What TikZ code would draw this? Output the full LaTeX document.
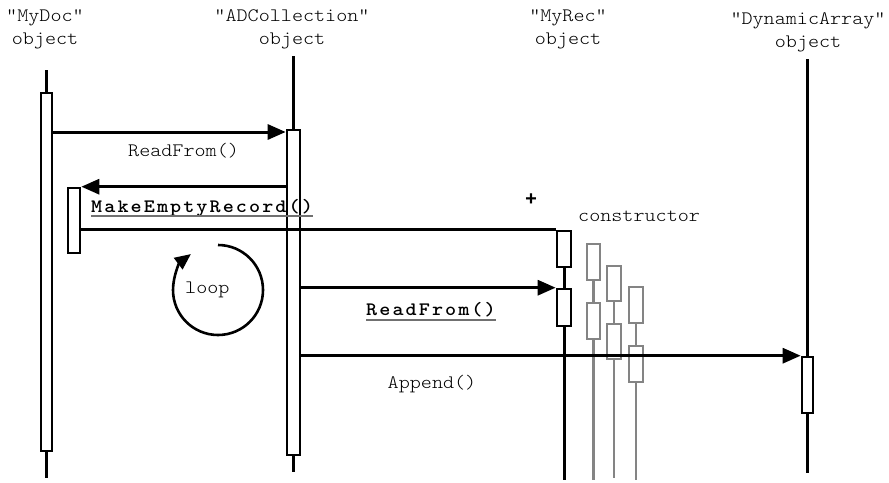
\documentclass[tikz,border=0pt]{standalone}
\usepackage{fontspec}
\usetikzlibrary{arrows.meta,calc}
\newfontfamily\monofont{lmmonolt10-regular.otf}[BoldFont=lmmonolt10-bold.otf, FakeStretch=1.11]
\newfontfamily\monosp{lmmonolt10-regular.otf}[BoldFont=lmmonolt10-bold.otf, FakeStretch=1.11, LetterSpace=11]
\newfontfamily\plusfont{Liberation Mono}
\definecolor{ghost}{HTML}{848484}
\definecolor{ulgray}{HTML}{707070}
\begin{document}
\begin{tikzpicture}[x=1pt,y=-1pt,
  txt/.style={font=\monofont\fontsize{19}{23}\selectfont, inner sep=0pt},
  btxt/.style={font=\monosp\bfseries\fontsize{19}{23}\selectfont, inner sep=0pt},
  hdr/.style={txt, align=center},
  life/.style={line width=3pt},
  glife/.style={line width=2.8pt, draw=ghost},
  bar/.style={draw, line width=2.6pt, fill=white, inner sep=0pt, minimum width=#1},
  gbar/.style={draw=ghost, line width=2.6pt, fill=white, inner sep=0pt, minimum width=#1},
  msg/.style={line width=3pt, -{Triangle[length=18pt,width=15pt]}},
  plain/.style={line width=3pt},
  uline/.style={draw=ulgray, line width=1.8pt}]
\useasboundingbox (0,0) rectangle (889,482);

% headers
\node[hdr] (hdoc) at (45,29) {"MyDoc"\\object};
\node[hdr] (hcol) at (292,29) {"ADCollection"\\object};
\node[hdr] (hrec) at (568,29) {"MyRec"\\object};
\node[hdr] (hdyn) at (808,32) {"DynamicArray"\\object};

% lifeline end points
\coordinate (doctop) at (46.5,70);
\coordinate (docbot) at (46.5,478);
\coordinate (coltop) at (293.5,56);
\coordinate (colbot) at (293.5,472);
\coordinate (recbot) at (564,480);
\coordinate (dyntop) at (807.5,59);
\coordinate (dynbot) at (807.5,473);
\coordinate (Abot) at (593.5,480);
\coordinate (Bbot) at (614,478);
\coordinate (Cbot) at (636,480);

% activation bars
\node[bar=11pt, minimum height=358pt] (docbar) at (46.5,272) {};
\node[bar=13pt, minimum height=325pt] (colbar) at (293.5,292.5) {};
\node[bar=12pt, minimum height=65pt] (ebar) at (74,220.5) {};
\node[bar=14pt, minimum height=36pt] (rec1) at (564,249) {};
\node[bar=14pt, minimum height=37pt] (rec2) at (564,307.5) {};
\node[bar=11pt, minimum height=56pt] (dynbar) at (807.5,385) {};

% ghost bars
\node[gbar=13pt, minimum height=36pt] (A1) at (593.5,262) {};
\node[gbar=13pt, minimum height=36pt] (A2) at (593.5,321) {};
\node[gbar=14pt, minimum height=35pt] (B1) at (614,283.5) {};
\node[gbar=14pt, minimum height=35pt] (B2) at (614,341.5) {};
\node[gbar=14pt, minimum height=36pt] (C1) at (636,305) {};
\node[gbar=14pt, minimum height=36pt] (C2) at (636,364) {};

% lifelines
\draw[life] (doctop) -- (docbar.north);
\draw[life] (docbar.south) -- (docbot);
\draw[life] (coltop) -- (colbar.north);
\draw[life] (colbar.south) -- (colbot);
\draw[life] (rec1.south) -- (rec2.north);
\draw[life] (rec2.south) -- (recbot);
\draw[life] (dyntop) -- (dynbar.north);
\draw[life] (dynbar.south) -- (dynbot);
\draw[glife] (A1.south) -- (A2.north);
\draw[glife] (A2.south) -- (Abot);
\draw[glife] (B1.south) -- (B2.north);
\draw[glife] (B2.south) -- (Bbot);
\draw[glife] (C1.south) -- (C2.north);
\draw[glife] (C2.south) -- (Cbot);

% messages
\coordinate (m1) at (0,132);
\draw[msg] (docbar.east |- m1) -- (colbar.west |- m1);
\draw[msg] (colbar.west |- ebar.north east) -- (ebar.north east);
\draw[plain] (ebar.east |- rec1.north west) -- (rec1.north west);
\draw[msg] (colbar.east |- rec2.north west) -- (rec2.north west);
\draw[msg] (colbar.east |- dynbar.north west) -- (dynbar.north west);

% loop
\node[txt, anchor=base west] (loop) at (185,293) {loop};
\draw[line width=2.6pt, -{Triangle[length=16pt,width=14pt]}]
  ($(loop.base west)+(33,-48)$) arc[start angle=-90, end angle=233, radius=45];

% labels
\node[txt, anchor=base west] (l1) at (128,156) {ReadFrom()};
\node[btxt, anchor=base west] (l2) at (91,212) {MakeEmptyRecord()};
\draw[uline] ([yshift=-4pt]l2.base west) -- ([yshift=-4pt]l2.base east);
\node[btxt, anchor=base west] (l3) at (366,315) {ReadFrom()};
\draw[uline] ([yshift=-5pt]l3.base west) -- ([yshift=-5pt]l3.base east);
\node[txt, anchor=base] (l4) at (432,388) {Append()};
\node[font=\plusfont\bfseries\fontsize{20}{23}\selectfont, inner sep=0pt] (plus) at (531,200) {+};
\node[txt, anchor=base west] (ctor) at (578,221) {constructor};
\end{tikzpicture}
\end{document}
